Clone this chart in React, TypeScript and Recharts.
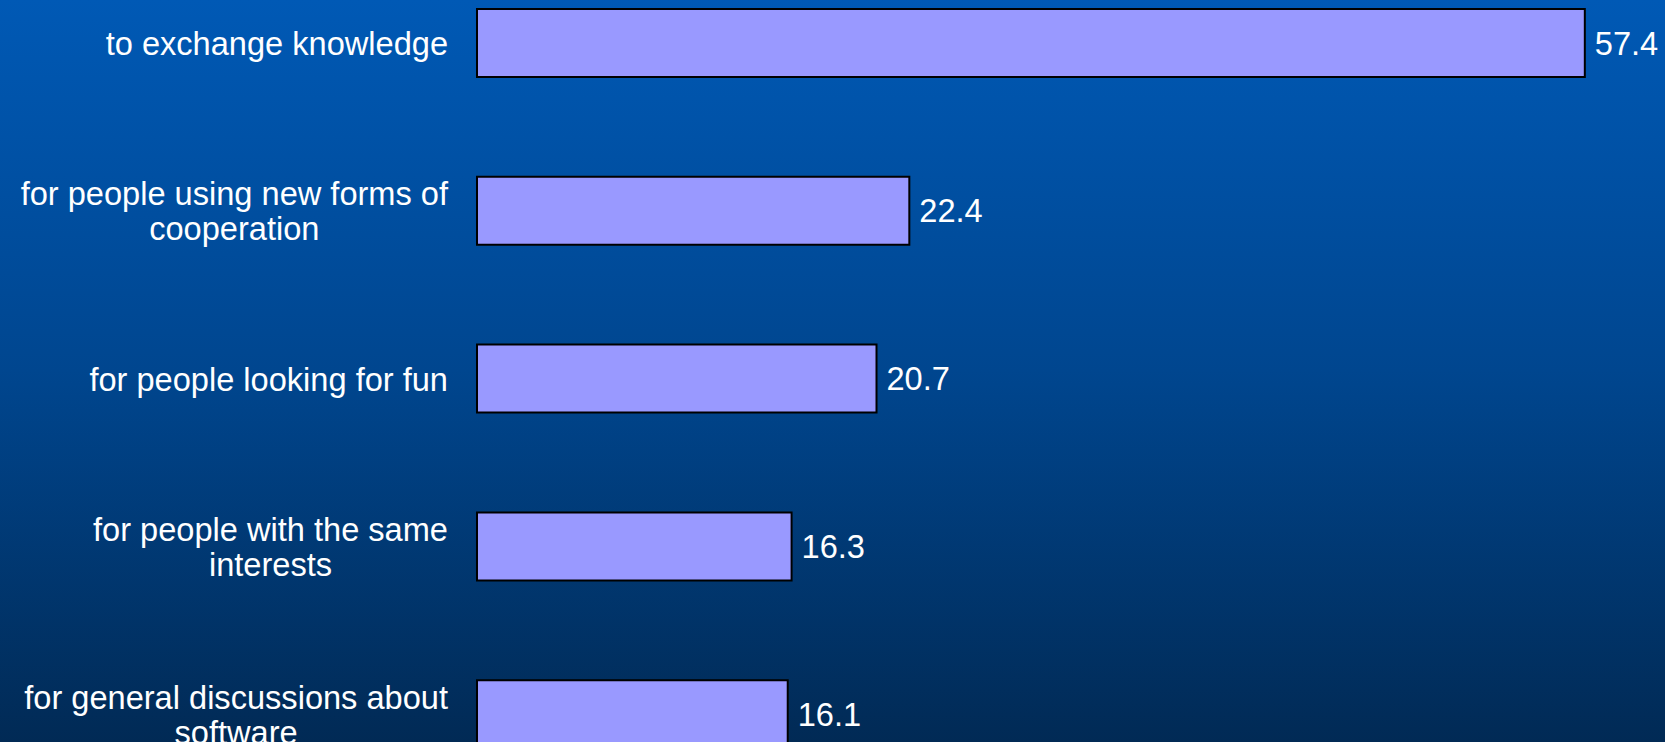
import { BarChart, Bar, XAxis, YAxis, LabelList } from 'recharts';

// survey answers, top to bottom; "\n" marks where the label wraps
const categories = [
  'to exchange knowledge',
  'for people using new forms of\ncooperation',
  'for people looking for fun',
  'for people with the same\ninterests',
  'for general discussions about\nsoftware',
];
const shares = [57.4, 22.4, 20.7, 16.3, 16.1];

const chartData = categories.map((name, i) => ({ name, value: shares[i] }));

const FONT = 'Arial, "Liberation Sans", sans-serif';
const FONT_SIZE = 32.6;

let measureCtx: CanvasRenderingContext2D | null = null;
const textWidth = (s: string) => {
  if (!measureCtx) {
    measureCtx = document.createElement('canvas').getContext('2d');
  }
  if (!measureCtx) return s.length * FONT_SIZE * 0.5;
  measureCtx.font = `${FONT_SIZE}px ${FONT}`;
  return measureCtx.measureText(s).width;
};

// right-aligned block, lines centred inside it (like the original slide)
const CategoryTick = ({ x, y, payload }: any) => {
  const lines = String(payload.value).split('\n');
  const lineHeight = 35;
  const startDy = -((lines.length - 1) * lineHeight) / 2;
  const blockW = Math.max(...lines.map(textWidth));
  const cx = x - blockW / 2;
  return (
    <text
      x={cx}
      y={y}
      textAnchor="middle"
      fill="#ffffff"
      fontSize={FONT_SIZE}
      fontFamily={FONT}
      dominantBaseline="central"
    >
      {lines.map((line, i) => (
        <tspan key={i} x={cx} dy={i === 0 ? startDy : lineHeight}>
          {line}
        </tspan>
      ))}
    </text>
  );
};

export default function App() {
  return (
    <div
      style={{
        position: 'absolute',
        left: 0,
        top: 0,
        width: 1665,
        height: 742,
        overflow: 'hidden',
        background: 'linear-gradient(to bottom, #0059b5 0%, #00468f 50%, #012a55 100%)',
      }}
    >
      {/* plot runs past the frame; the last bar is cut by the bottom edge */}
      <div style={{ position: 'absolute', left: 0, top: -41 }}>
        <BarChart
          width={1665}
          height={839}
          data={chartData}
          layout="vertical"
          margin={{ top: 0, right: 30, left: 0, bottom: 0 }}
        >
          <XAxis type="number" domain={[0, 60]} hide />
          <YAxis
            type="category"
            dataKey="name"
            width={477}
            axisLine={false}
            tickLine={false}
            tickSize={0}
            tickMargin={29}
            tick={<CategoryTick />}
            interval={0}
          />
          <Bar
            dataKey="value"
            fill="#9999ff"
            stroke="#000000"
            strokeWidth={2}
            barSize={68}
            isAnimationActive={false}
          >
            <LabelList
              dataKey="value"
              position="right"
              offset={10}
              fill="#ffffff"
              fontSize={FONT_SIZE}
              fontFamily={FONT}
              formatter={(v: any) => Number(v).toFixed(1)}
            />
          </Bar>
        </BarChart>
      </div>
    </div>
  );
}
